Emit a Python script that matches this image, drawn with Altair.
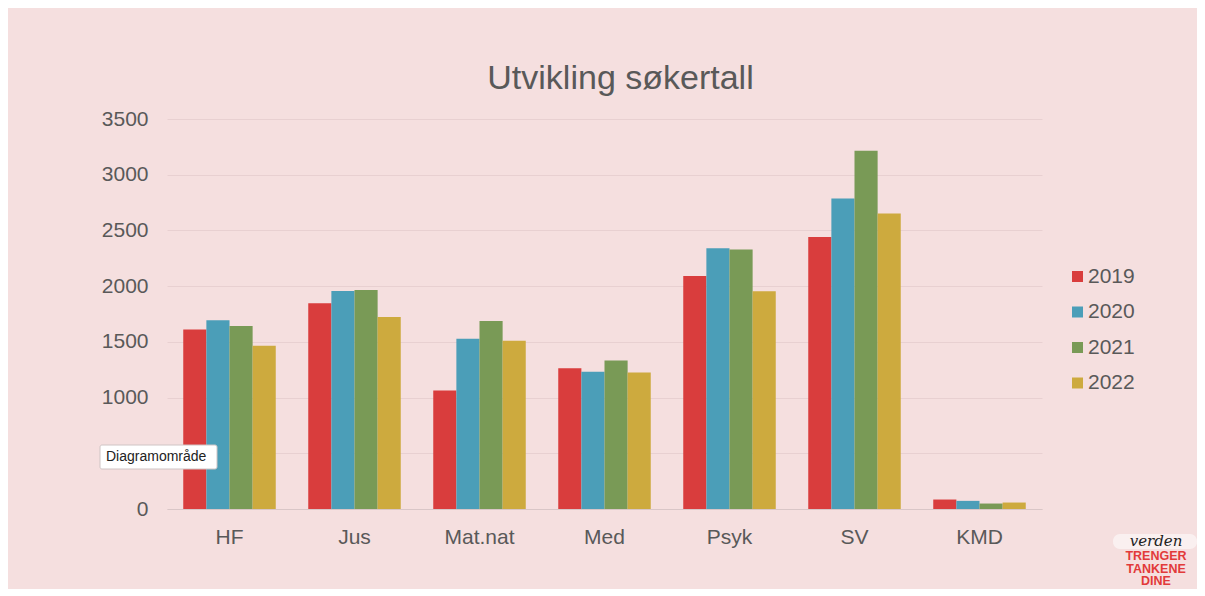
import altair as alt
import pandas as pd

cats = ["HF", "Jus", "Mat.nat", "Med", "Psyk", "SV", "KMD"]
years = ["2019", "2020", "2021", "2022"]
v2019 = [1611, 1847, 1063, 1264, 2092, 2442, 85]
v2020 = [1694, 1957, 1527, 1231, 2341, 2787, 73]
v2021 = [1643, 1966, 1688, 1333, 2329, 3214, 49]
v2022 = [1464, 1724, 1509, 1225, 1955, 2652, 58]
colors = ["#d93d3d", "#4b9eb8", "#799a56", "#cdaa3e"]
y_ticks = [0, 500, 1000, 1500, 2000, 2500, 3000, 3500]

rows = []
for yr, vals in zip(years, [v2019, v2020, v2021, v2022]):
    for c, v in zip(cats, vals):
        rows.append({"cat": c, "year": yr, "value": v})
df = pd.DataFrame(rows)

FONT = "Liberation Sans"
TXT = "#595959"

bars = alt.Chart(df).mark_bar().encode(
    x=alt.X("cat:N", sort=cats, title=None,
            scale=alt.Scale(paddingInner=0.26, paddingOuter=0.13),
            axis=alt.Axis(labelAngle=0, labelFontSize=21, labelColor=TXT, labelFont=FONT,
                          ticks=False, tickSize=0, labelPadding=17, domain=True,
                          domainColor="#d9c6c7", domainWidth=1, grid=False)),
    xOffset=alt.XOffset("year:N", sort=years, scale=alt.Scale(paddingInner=0, paddingOuter=0)),
    y=alt.Y("value:Q", title=None,
            scale=alt.Scale(domain=[0, 3500], nice=False),
            axis=alt.Axis(values=y_ticks, format="d", labelFontSize=21, labelColor=TXT,
                          labelFont=FONT, ticks=False, tickSize=0, labelPadding=19,
                          domain=False, grid=True, gridColor="#e8d0d1", gridWidth=1)),
    color=alt.Color("year:N", sort=years, scale=alt.Scale(domain=years, range=colors),
                    legend=alt.Legend(title=None, orient="none", legendX=900, legendY=147,
                                      symbolType="square", symbolSize=121, symbolStrokeWidth=0,
                                      labelFontSize=21, labelColor=TXT, labelFont=FONT,
                                      rowPadding=13.5, labelOffset=0, padding=0)),
)

tip_box = alt.Chart(pd.DataFrame({"a": [0]})).mark_rect(
    fill="#ffffff", stroke="#cfc4c4", strokeWidth=1, cornerRadius=2
).encode(x=alt.value(-67), x2=alt.value(50), y=alt.value(326), y2=alt.value(350))
tip_text = alt.Chart(pd.DataFrame({"t": ["Diagramområde"]})).mark_text(
    align="left", baseline="middle", fontSize=14, font=FONT, color="#222222"
).encode(text="t:N", x=alt.value(-61), y=alt.value(338))

pill = alt.Chart(pd.DataFrame({"a": [0]})).mark_rect(
    fill="#faf0f0", cornerRadius=7
).encode(x=alt.value(946), x2=alt.value(1030), y=alt.value(415), y2=alt.value(430))
verden = alt.Chart(pd.DataFrame({"t": ["verden"]})).mark_text(
    align="center", baseline="middle", fontSize=15, font="DejaVu Serif", fontStyle="italic",
    color="#222222"
).encode(text="t:N", x=alt.value(989), y=alt.value(422))
logo = alt.Chart(pd.DataFrame({"t": ["TRENGER\nTANKENE\nDINE"]})).mark_text(
    align="center", baseline="top", fontSize=12.5, font=FONT, fontWeight="bold",
    color="#e23a3a", lineBreak="\n", lineHeight=12.5
).encode(text="t:N", x=alt.value(989), y=alt.value(431))

chart = alt.layer(bars, tip_box, tip_text, pill, verden, logo).properties(
    width=875, height=390,
    padding={"left": 159, "top": 111, "right": 155, "bottom": 80},
    autosize="none",
    background="#f5dfdf",
    title=alt.TitleParams("Utvikling søkertall", fontSize=34, font=FONT, fontWeight="normal",
                          color=TXT, anchor="middle", dx=16, offset=12),
).configure_view(stroke=None)

chart.save("out.html", embed_options={"renderer": "svg", "actions": False})
